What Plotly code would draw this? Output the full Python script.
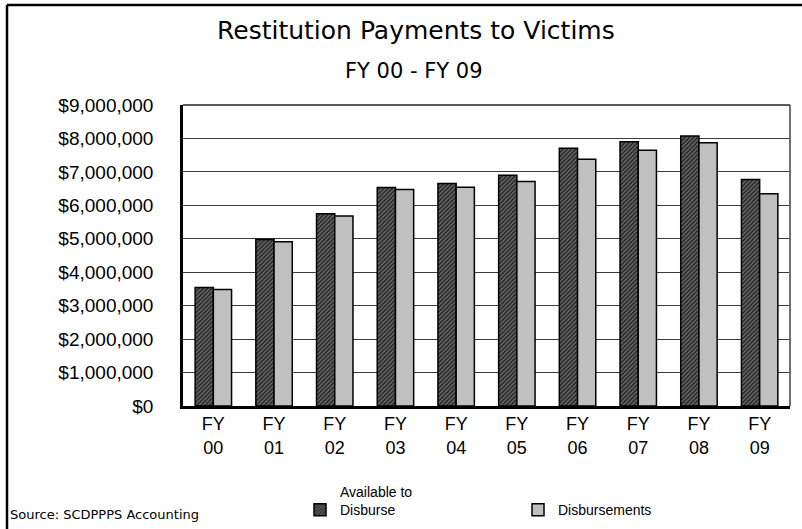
import plotly.graph_objects as go

categories = ["FY<br>00", "FY<br>01", "FY<br>02", "FY<br>03", "FY<br>04",
              "FY<br>05", "FY<br>06", "FY<br>07", "FY<br>08", "FY<br>09"]
available = [3540000, 4980000, 5750000, 6530000, 6650000,
             6900000, 7710000, 7900000, 8070000, 6770000]
disbursements = [3480000, 4910000, 5680000, 6470000, 6540000,
                 6710000, 7380000, 7650000, 7870000, 6350000]
y_ticks = [0, 1000000, 2000000, 3000000, 4000000, 5000000,
           6000000, 7000000, 8000000, 9000000]
y_labels = ["$0", "$1,000,000", "$2,000,000", "$3,000,000", "$4,000,000",
            "$5,000,000", "$6,000,000", "$7,000,000", "$8,000,000", "$9,000,000"]

FONT = "Liberation Sans, Arial, sans-serif"
WIDE = "DejaVu Sans, Liberation Sans, sans-serif"
W, H = 802, 529
L, R, T, B = 183, 12, 105, 123
PW, PH = W - L - R, H - T - B


def px(x):
    return (x - L) / PW


def py(y):
    return (H - B - y) / PH


fig = go.Figure()
fig.add_trace(go.Bar(
    x=categories, y=available, name="Available to<br>Disburse",
    marker=dict(color="#5c5c5c", line=dict(color="black", width=1.5),
                pattern=dict(shape="/", fillmode="replace", bgcolor="#6a6a6a",
                             fgcolor="#242424", size=3, solidity=0.5)),
))
fig.add_trace(go.Bar(
    x=categories, y=disbursements, name=" <br>Disbursements",
    marker=dict(color="#c0c0c0", line=dict(color="black", width=1.5)),
))

fig.update_layout(
    width=W, height=H,
    margin=dict(l=L, r=R, t=T, b=B, autoexpand=False),
    paper_bgcolor="white", plot_bgcolor="white",
    barmode="group", bargap=0.4, bargroupgap=0,
    font=dict(family=FONT, color="black", size=18),
    showlegend=True,
    legend=dict(orientation="h", x=px(300), y=py(476), xanchor="left", yanchor="top",
                font=dict(size=14, family=FONT), entrywidth=173, valign="bottom",
                entrywidthmode="pixels", traceorder="normal", bgcolor="rgba(0,0,0,0)"),
    xaxis=dict(showline=True, linecolor="black", linewidth=2.5, ticks="",
               tickfont=dict(size=18), showgrid=False),
    yaxis=dict(range=[0, 9000000], tickvals=y_ticks, ticktext=y_labels,
               showline=True, linecolor="black", linewidth=2.5,
               showgrid=True, gridcolor="#3a3a3a", gridwidth=1.3,
               ticks="outside", ticklen=0, ticklabelstandoff=23,
               tickfont=dict(size=19), zeroline=False),
    shapes=[
        dict(type="line", xref="paper", yref="paper", x0=1, x1=1, y0=0, y1=1,
             line=dict(color="#707070", width=2)),
        dict(type="line", xref="paper", yref="paper", x0=0, x1=1, y0=1, y1=1,
             line=dict(color="#222222", width=1.5)),
        dict(type="line", xref="paper", yref="paper", x0=px(7), x1=px(803), y0=py(5), y1=py(5),
             line=dict(color="black", width=2.5)),
        dict(type="line", xref="paper", yref="paper", x0=px(7), x1=px(7), y0=py(5), y1=py(530),
             line=dict(color="black", width=2.5)),
    ],
    annotations=[
        dict(text="Restitution Payments to Victims", xref="paper", yref="paper",
             x=px(416), y=py(31), xanchor="center", yanchor="middle", showarrow=False,
             font=dict(size=25, family=WIDE)),
        dict(text="FY 00 - FY 09", xref="paper", yref="paper",
             x=px(414), y=py(71), xanchor="center", yanchor="middle", showarrow=False,
             font=dict(size=21, family=WIDE)),
        dict(text="Source: SCDPPPS Accounting", xref="paper", yref="paper",
             x=px(8), y=py(514), xanchor="left", yanchor="middle", showarrow=False,
             font=dict(size=13, family=WIDE)),
    ],
)

fig.write_html("out.html", config={"displayModeBar": False},
               post_script="document.body.style.margin='0px';document.body.style.overflow='hidden';")
